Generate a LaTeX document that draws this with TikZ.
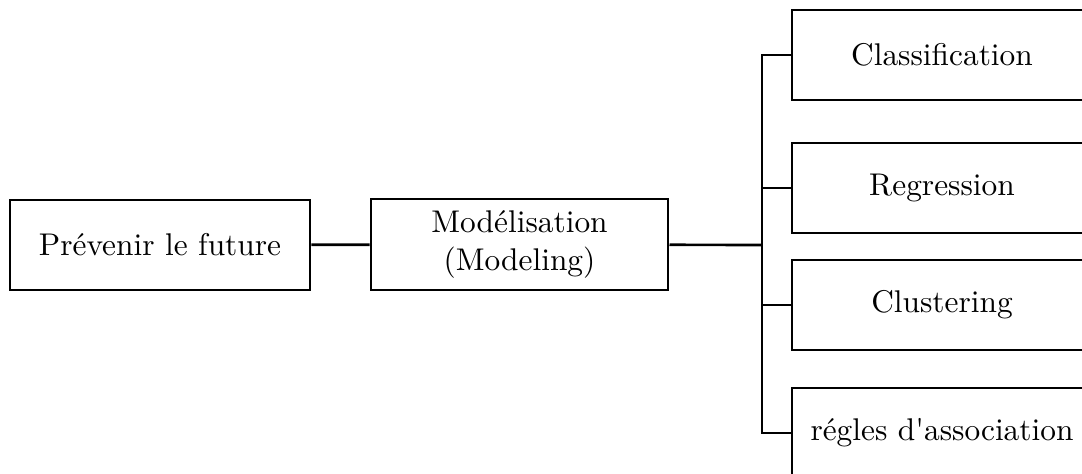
\documentclass[tikz,border=0pt]{standalone}
\usepackage{tikz}
\usetikzlibrary{positioning}

\tikzset{
	boite/.style={draw, line width=0.85pt, minimum width=3.36cm, minimum height=1.008cm, align=center, inner sep=2pt},
	lien/.style={line width=0.85pt}
}

\begin{document}
\begin{tikzpicture}[x=0.0112cm, y=-0.0112cm]
	\useasboundingbox (0,0) rectangle (1082,474);
	\clip (0,0) rectangle (1082,474);
	%
	\node[boite] (prevenir) at (160,245) {Pr\'evenir le future};
	\node[boite, minimum width=3.33cm, minimum height=1.02cm] (modele) at (519.5,244.5) {Mod\'elisation\\(Modeling)};
	%
	\node[boite] (classif) at (942,55) {Classification};
	\node[boite] (regress) at (942,188) {Regression};
	\node[boite] (cluster) at (942,305) {Clustering};
	\node[boite] (assoc) at (942,433) {r\'egles d\textquotesingle association};
	%
	\coordinate (jonction) at (762,245);
	\draw[lien] (prevenir) -- (modele);
	\draw[lien] (modele) -- (jonction);
	\draw[lien] (jonction) |- (classif.west);
	\draw[lien] (jonction) |- (regress.west);
	\draw[lien] (jonction) |- (cluster.west);
	\draw[lien] (jonction) |- (assoc.west);
\end{tikzpicture}
\end{document}
